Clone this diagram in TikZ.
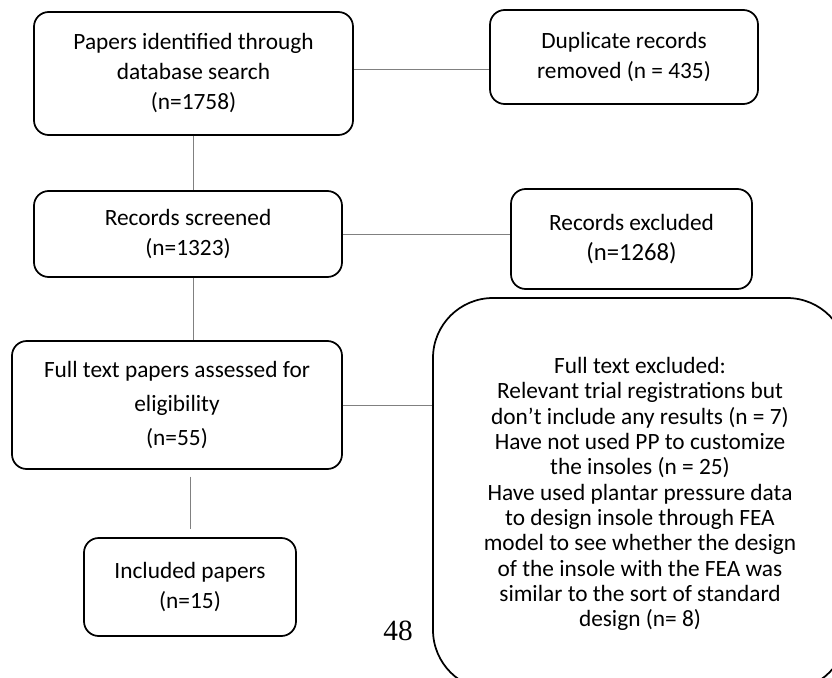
\documentclass[tikz,border=0pt]{standalone}
\usepackage{fontspec}
\setmainfont{Carlito}
\newfontfamily\pagefont{Liberation Serif}

\tikzset{every picture/.style={line width=0.75pt}}
\tikzset{
  flowbox/.style 2 args={draw, line width=1.3pt, rounded corners=11pt, align=center, inner sep=0pt,
    minimum width=#1*0.75pt, minimum height=#2*0.75pt, font=\fontsize{17.5}{22.5}\selectfont},
  link/.style={draw={rgb, 255:red, 128; green, 128; blue, 128 }, line width=0.75pt}
}

\begin{document}
\begin{tikzpicture}[x=0.75pt,y=0.75pt,yscale=-1]
\useasboundingbox (0,0) rectangle (832,678);
\clip (0,0) rectangle (832,678);

\node [flowbox={319}{123}] (ident) at (193.5,73.5) {Papers identified through\\database search\\(n=1758)};
\node [flowbox={268}{94}] (dupl) at (624,57) {Duplicate records\\removed (n = 435)};
\node [flowbox={308}{86}] (screen) at (188,234) {Records screened\\(n=1323)};
\node [flowbox={241}{100}] (excl) at (631.5,239) {Records excluded\\{\fontsize{18.5}{22.5}\selectfont (n=1268)}};
\node [flowbox={330}{128}, font=\fontsize{17.5}{25.5}\selectfont] (full) at (177,405) {Full text papers assessed for\\eligibility\\(n=55)};
\node [flowbox={414}{392}, rounded corners=45pt, font=\fontsize{17.5}{19}\selectfont] (fullex) at (640,494) {Full text excluded:\\Relevant trial registrations but\\don’t include any results (n = 7)\\Have not used PP to customize\\the insoles (n = 25)\\Have used plantar pressure data\\to design insole through FEA\\model to see whether the design\\of the insole with the FEA was\\similar to the sort of standard\\design (n= 8)};
\node [flowbox={212}{98}] (incl) at (190,587) {Included papers\\(n=15)};
\node [anchor=base, inner sep=0pt, font=\pagefont\fontsize{22}{26}\selectfont] (pageno) at (398,640) {48};

\draw [link] (ident.east |- 0,69) -- (dupl.west |- 0,69);
\draw [link] (ident.south) -- (ident.south |- screen.north);
\draw [link] (screen.east) -- (screen.east -| excl.west);
\draw [link] (ident.south |- screen.south) -- (ident.south |- full.north);
\draw [link] (full.east) -- (full.east -| fullex.west);
\draw [link, shorten <=5pt, shorten >=6pt] (incl.north |- full.south) -- (incl.north);

\end{tikzpicture}
\end{document}
